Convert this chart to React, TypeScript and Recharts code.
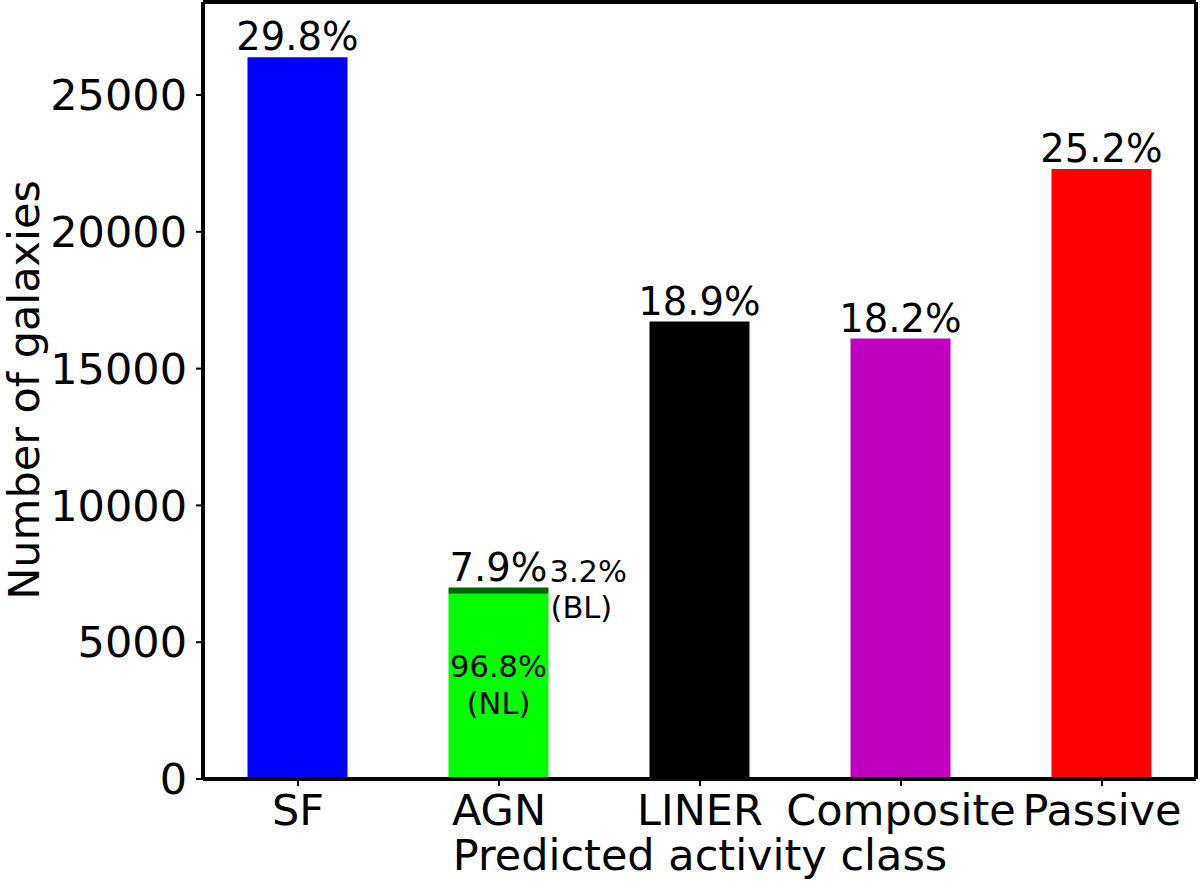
import React from 'react';
import { BarChart, Bar, XAxis, YAxis, Cell, LabelList, ReferenceLine } from 'recharts';

const categories = ['SF', 'AGN', 'LINER', 'Composite', 'Passive'];
// AGN base = narrow-line part, broad-line part stacked on top
const baseCounts = [26380, 6770, 16720, 16100, 22300];
const broadLineCounts = [null, 225, null, null, null];
const percentLabels = ['29.8%', '7.9%', '18.9%', '18.2%', '25.2%'];
const barColors = ['#0000ff', '#00ff00', '#000000', '#bf00bf', '#ff0000'];
const yTicks = [0, 5000, 10000, 15000, 20000, 25000];

const FONT = '"DejaVu Sans", sans-serif';
const X_MIN = -0.4726;
const X_MAX = 4.4677;
const Y_MAX = 28400;

const data = categories.map((name, i) => ({
  x: i,
  name,
  base: baseCounts[i],
  bl: broadLineCounts[i],
  baseLabel: broadLineCounts[i] == null ? percentLabels[i] : '',
  blLabel: broadLineCounts[i] == null ? '' : percentLabels[i],
  nlNote: broadLineCounts[i] == null ? '' : '96.8%|(NL)',
  blNote: broadLineCounts[i] == null ? '' : '3.2%|(BL)',
}));

const topLabel = (props: any) => {
  const { x, y, width, value } = props;
  if (!value) return null;
  return (
    <text x={x + width / 2} y={y - 7} textAnchor="middle" fontSize={38.5} fontFamily={FONT} fill="#000">
      {value}
    </text>
  );
};

const nlLabel = (props: any) => {
  const { x, y, width, height, value } = props;
  if (!value) return null;
  const [a, b] = String(value).split('|');
  const cx = x + width / 2;
  const cy = y + height / 2;
  return (
    <g fontSize={30.5} fontFamily={FONT} fill="#000" textAnchor="middle">
      <text x={cx} y={cy - 9}>{a}</text>
      <text x={cx} y={cy + 28}>{b}</text>
    </g>
  );
};

const blLabel = (props: any) => {
  const { x, y, width, value } = props;
  if (!value) return null;
  const [a, b] = String(value).split('|');
  return (
    <g fontSize={30.5} fontFamily={FONT} fill="#000" textAnchor="start">
      <text x={x + width + 1} y={y - 6}>{a}</text>
      <text x={x + width + 2} y={y + 30}>{b}</text>
    </g>
  );
};

export default function App() {
  return (
    <div style={{ position: 'absolute', left: 0, top: 0, background: '#fff' }}>
      <BarChart
        width={1200}
        height={883}
        data={data}
        margin={{ top: 2, right: 4, bottom: 0, left: 0 }}
      >
        <XAxis
          dataKey="x"
          type="number"
          domain={[X_MIN, X_MAX]}
          ticks={[0, 1, 2, 3, 4]}
          tickFormatter={(v) => categories[v]}
          allowDataOverflow
          height={104}
          axisLine={{ stroke: '#000', strokeWidth: 4 }}
          tickLine={{ stroke: '#000', strokeWidth: 2 }}
          tickSize={7}
          tickMargin={8}
          tick={{ fill: '#000', fontSize: 43, fontFamily: FONT }}
          label={{
            content: () => (
              <text x={700} y={870} textAnchor="middle" fontSize={43} fontFamily={FONT} fill="#000">
                Predicted activity class
              </text>
            ),
          }}
        />
        <YAxis
          type="number"
          domain={[0, Y_MAX]}
          ticks={yTicks}
          interval={0}
          allowDataOverflow
          width={203}
          axisLine={{ stroke: '#000', strokeWidth: 4 }}
          tickLine={{ stroke: '#000', strokeWidth: 2 }}
          tickSize={7}
          tickMargin={9}
          tick={{ fill: '#000', fontSize: 43, fontFamily: FONT }}
          label={{
            content: () => (
              <text
                x={39}
                y={390}
                transform="rotate(-90, 39, 390)"
                textAnchor="middle"
                fontSize={43}
                fontFamily={FONT}
                fill="#000"
              >
                Number of galaxies
              </text>
            ),
          }}
        />
        <Bar dataKey="base" stackId="a" barSize={100} isAnimationActive={false}>
          {data.map((d, i) => (
            <Cell key={d.name} fill={barColors[i]} />
          ))}
          <LabelList dataKey="baseLabel" content={topLabel} />
          <LabelList dataKey="nlNote" content={nlLabel} />
        </Bar>
        <Bar dataKey="bl" stackId="a" barSize={100} fill="#006400" isAnimationActive={false}>
          <LabelList dataKey="blLabel" content={topLabel} />
          <LabelList dataKey="blNote" content={blLabel} />
        </Bar>
        <ReferenceLine y={Y_MAX} stroke="#000" strokeWidth={4} />
        <ReferenceLine x={X_MAX} stroke="#000" strokeWidth={4} />
      </BarChart>
    </div>
  );
}
